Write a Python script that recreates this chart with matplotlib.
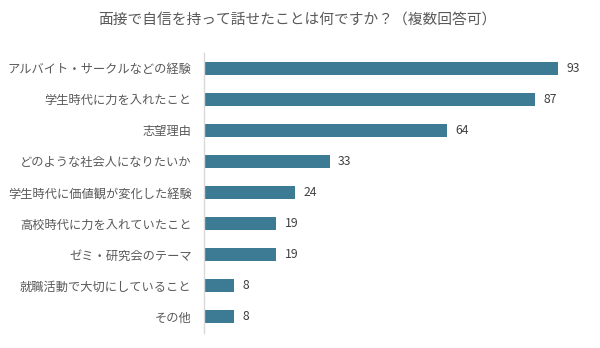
import matplotlib
matplotlib.use("Agg")
import matplotlib.pyplot as plt

plt.rcParams['font.family'] = ['Noto Sans CJK JP', 'DejaVu Sans']

categories = [
    "アルバイト・サークルなどの経験",
    "学生時代に力を入れたこと",
    "志望理由",
    "どのような社会人になりたいか",
    "学生時代に価値観が変化した経験",
    "高校時代に力を入れていたこと",
    "ゼミ・研究会のテーマ",
    "就職活動で大切にしていること",
    "その他",
]
values = [93, 87, 64, 33, 24, 19, 19, 8, 8]
title = "面接で自信を持って話せたことは何ですか？（複数回答可）"

bar_color = "#3D7A93"
text_color = "#595959"

fig = plt.figure(figsize=(6.0, 3.48), dpi=100)
ax = fig.add_axes([0.34, 0.0445, 0.634, 0.8045])

y = list(range(len(categories)))
ax.barh(y, values, height=0.42, color=bar_color)
ax.set_ylim(len(categories) - 0.5, -0.5)
ax.set_xlim(0, 100)
ax.set_yticks(y)
ax.set_yticklabels(categories, fontsize=8.8, color=text_color)
ax.tick_params(axis='y', length=0, pad=9)
ax.set_xticks([])

for s in ['top', 'right', 'bottom']:
    ax.spines[s].set_visible(False)
ax.spines['left'].set_color('#D9D9D9')
ax.spines['left'].set_linewidth(1.0)

for yi, v in zip(y, values):
    ax.annotate(str(v), xy=(v, yi), xytext=(6, 0), textcoords='offset points',
                va='center', ha='left', fontsize=8.8, color='#404040')

fig.text(0.495, 0.942, title, ha='center', va='center', fontsize=10.6, color=text_color)

fig.savefig("out.png", dpi=100, facecolor='white')
